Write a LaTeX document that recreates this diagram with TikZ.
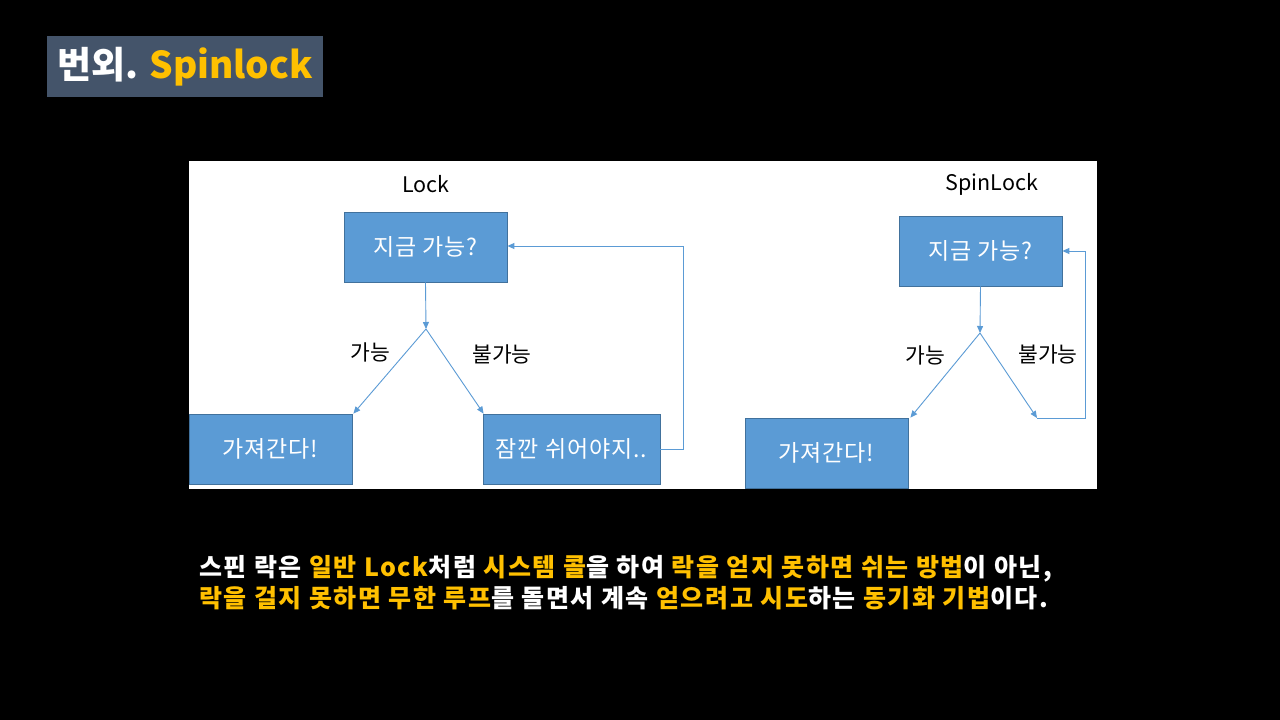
\documentclass[tikz,border=0pt]{standalone}
\usepackage{fontspec}
\setmainfont{Noto Sans CJK KR}
\usetikzlibrary{arrows.meta}
\definecolor{boxfill}{HTML}{5B9BD5}
\definecolor{boxline}{HTML}{41719C}
\definecolor{titlebg}{HTML}{44546A}
\definecolor{gold}{HTML}{FFC000}
\begin{document}
\begin{tikzpicture}[x=1pt,y=-1pt,
  box/.style={draw=boxline, fill=boxfill, line width=0.8pt, text=white, inner sep=0pt,
    minimum height=70pt, font=\fontsize{23}{27}\selectfont\addfontfeature{LetterSpace=4}},
  conn/.style={draw=boxfill, line width=0.9pt, -{Triangle[length=7pt,width=6pt]}},
  lbl/.style={text=black, inner sep=0pt, font=\fontsize{21.5}{25}\selectfont},
  bottomtext/.style={anchor=west, inner sep=0pt, text=white,
    font=\fontsize{25}{29}\selectfont\bfseries\addfontfeature{LetterSpace=6.5}}
]
\fill[black] (0,0) rectangle (1280,720);
\useasboundingbox (0,0) rectangle (1280,720);
% title
\node[fill=titlebg, minimum width=276pt, minimum height=61pt, inner sep=0pt,
  font=\fontsize{37}{40}\selectfont\bfseries] (title) at (185,66.5)
  {\textcolor{white}{번외.} \textcolor{gold}{Spinlock}};
% panel
\fill[white] (189,161) rectangle (1097,489);
% left diagram
\node[lbl] (lockt) at (426,184) {Lock};
\node[box, minimum width=163pt] (lt) at (425.5,247) {지금 가능?};
\node[box, minimum width=163pt] (lb) at (270.5,449) {가져간다!};
\node[box, minimum width=177pt] (lr) at (571.5,449) {잠깐 쉬어야지..};
\coordinate (lsplit) at (426,329);
\node[lbl] (lyes) at (370,352) {가능};
\node[lbl] (lno) at (502,354) {불가능};
\draw[conn] (lt.south) -- (lsplit);
\draw[conn] (lsplit) -- ([xshift=1pt]lb.north east);
\draw[conn] (lsplit) -- ([xshift=1pt]lr.north west);
\draw[conn] (lr.east) -- ++(23,0) |- ([yshift=1pt]lt.east);
% right diagram
\node[lbl] (spint) at (992,184) {SpinLock};
\node[box, minimum width=163pt] (rt) at (980.5,251) {지금 가능?};
\node[box, minimum width=163pt] (rb) at (826.5,453) {가져간다!};
\coordinate (rsplit) at (980,333);
\coordinate (rend) at (1037,418);
\node[lbl] (ryes) at (925,355) {가능};
\node[lbl] (rno) at (1048,354) {불가능};
\draw[conn] (rt.south) -- (rsplit);
\draw[conn] (rsplit) -- ([xshift=2pt]rb.north east);
\draw[conn] (rsplit) -- (rend);
\draw[conn] (rend) -- ++(48,0) |- (rt.east);
% bottom text
\node[bottomtext] (line1) at (199,569)
  {스핀 락은 \textcolor{gold}{일반 Lock}처럼 \textcolor{gold}{시스템 콜}을 하여 \textcolor{gold}{락을 얻지 못하면 쉬는 방법}이 아닌,};
\node[bottomtext] (line2) at (199,598)
  {\textcolor{gold}{락을 걸지 못하면 무한 루프}를 돌면서 계속 \textcolor{gold}{얻으려고 시도}하는 \textcolor{gold}{동기화 기법}이다.};
\end{tikzpicture}
\end{document}
